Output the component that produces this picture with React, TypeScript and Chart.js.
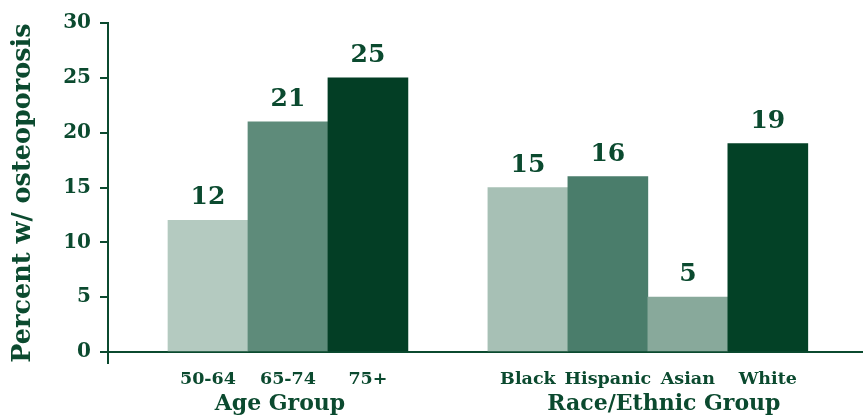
import React, { useEffect, useRef } from 'react';
import { Chart, registerables } from 'chart.js';

Chart.register(...registerables);

// ---- data ----
const categories = ['50-64', '65-74', '75+', 'Black', 'Hispanic', 'Asian', 'White'];
const slots = [0, 1, 2, 4, 5, 6, 7]; // category slot (slot 3 is the gap between groups)
const values = [12, 21, 25, 15, 16, 5, 19];
const barColors = ['#b4cac0', '#5e8b7a', '#033e25', '#a7c0b5', '#4a7d6b', '#88a99b', '#034126'];
const groups = ['Age Group', 'Race/Ethnic Group'];
const groupCenters = [0.9, 5.7];
const yTicks = [0, 5, 10, 15, 20, 25, 30];

const TEXT = '#0b4a2f';
const FAMILY = "'DejaVu Serif', serif";

const valueLabels = {
  id: 'valueLabels',
  afterDatasetsDraw(chart: any) {
    const ctx = chart.ctx;
    const meta = chart.getDatasetMeta(0);
    ctx.save();
    ctx.font = `bold 25px ${FAMILY}`;
    ctx.fillStyle = TEXT;
    ctx.textAlign = 'center';
    ctx.textBaseline = 'alphabetic';
    meta.data.forEach((bar: any, i: number) => {
      ctx.fillText(String(values[i]), bar.x, bar.y - 16);
    });
    ctx.restore();
  },
};

export default function App() {
  const ref = useRef<HTMLCanvasElement | null>(null);

  useEffect(() => {
    if (!ref.current) return;
    const xMin = -1.25;
    const xMax = 8.19;
    const chart = new Chart(ref.current, {
      type: 'bar',
      data: {
        datasets: [
          {
            data: slots.map((s, i) => ({ x: s, y: values[i] })),
            backgroundColor: barColors,
            borderWidth: 0,
            barPercentage: 1,
            categoryPercentage: 1,
          },
        ],
      },
      options: {
        animation: false,
        responsive: true,
        maintainAspectRatio: false,
        layout: { padding: { top: 23, left: 0, right: 0, bottom: 0 } },
        plugins: { legend: { display: false }, tooltip: { enabled: false } },
        scales: {
          x: {
            type: 'linear',
            min: xMin,
            max: xMax,
            offset: false,
            position: 'bottom',
            weight: 0,
            grid: { display: false, offset: false },
            border: { display: false },
            afterBuildTicks: (s: any) => {
              s.ticks = slots.map((v) => ({ value: v }));
            },
            afterFit: (s: any) => {
              s.height = 26;
            },
            ticks: {
              autoSkip: false,
              maxRotation: 0,
              padding: -2,
              color: TEXT,
              font: { family: FAMILY, size: 17.5, weight: 'bold' },
              callback: (_v: any, i: number) => categories[i],
            },
          },
          x2: {
            type: 'linear',
            min: xMin,
            max: xMax,
            offset: false,
            position: 'bottom',
            weight: 1,
            grid: { display: false, offset: false },
            border: { display: false },
            afterBuildTicks: (s: any) => {
              s.ticks = groupCenters.map((v) => ({ value: v }));
            },
            afterFit: (s: any) => {
              s.height = 26;
            },
            ticks: {
              autoSkip: false,
              maxRotation: 0,
              padding: -6,
              color: TEXT,
              font: { family: FAMILY, size: 22, weight: 'bold' },
              callback: (_v: any, i: number) => groups[i],
            },
          },
          y: {
            min: -1,
            max: 30,
            afterBuildTicks: (s: any) => {
              s.ticks = yTicks.map((v) => ({ value: v }));
            },
            afterFit: (s: any) => {
              s.width = 108;
            },
            grid: {
              color: (c: any) => (c.tick && c.tick.value === 0 ? TEXT : 'rgba(0,0,0,0)'),
              lineWidth: 2,
              tickColor: TEXT,
              tickWidth: 2,
              tickLength: 8,
              drawTicks: true,
            },
            border: { display: true, color: TEXT, width: 2 },
            ticks: {
              padding: 9,
              color: TEXT,
              font: { family: FAMILY, size: 20, weight: 'bold' },
            },
            title: {
              display: true,
              text: 'Percent w/ osteoporosis',
              color: TEXT,
              padding: { top: 8, bottom: 0 },
              font: { family: FAMILY, size: 25.5, weight: 'bold' },
            },
          },
        },
      } as any,
      plugins: [valueLabels],
    });
    return () => chart.destroy();
  }, []);

  return (
    <div style={{ position: 'fixed', left: 0, top: 0, width: 863, height: 415, background: '#fff' }}>
      <canvas ref={ref} />
    </div>
  );
}
